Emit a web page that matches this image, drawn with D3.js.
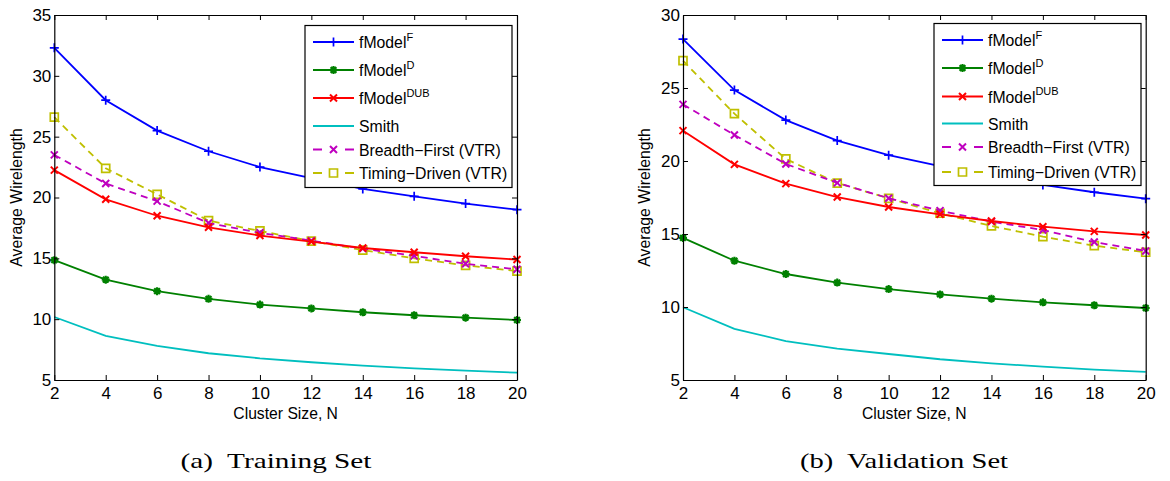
<!DOCTYPE html>
<html>
<head>
<meta charset="utf-8">
<script src="https://cdn.jsdelivr.net/npm/d3@7"></script>
<style>
  body { margin: 0; background: #fff; }
  svg { display: block; }
  text { font-family: "Liberation Sans", Arial, sans-serif; fill: #000; }
  .caption { font-family: "Liberation Serif", "Times New Roman", serif; }
</style>
</head>
<body>
<div id="chart"></div>
<script>
// cluster sizes on the x axis
const clusterSizes = [2, 4, 6, 8, 10, 12, 14, 16, 18, 20];

// (a) training set
const trainF     = [32.3, 28.0, 25.5, 23.8, 22.5, 21.6, 20.7, 20.1, 19.5, 19.0];
const trainD     = [14.85, 13.25, 12.3, 11.67, 11.2, 10.88, 10.57, 10.32, 10.12, 9.93];
const trainDUB   = [22.25, 19.85, 18.5, 17.55, 16.87, 16.37, 15.85, 15.5, 15.17, 14.9];
const trainSmith = [10.18, 8.62, 7.8, 7.2, 6.78, 6.46, 6.18, 5.96, 5.77, 5.6];
const trainBF    = [23.5, 21.15, 19.7, 17.9, 17.1, 16.45, 15.8, 15.2, 14.55, 14.1];
const trainTD    = [26.6, 22.4, 20.26, 18.1, 17.25, 16.42, 15.68, 15.0, 14.42, 13.95];

// (b) validation set
const validF     = [28.35, 24.86, 22.8, 21.4, 20.4, 19.65, 18.95, 18.36, 17.86, 17.42];
const validD     = [14.73, 13.17, 12.26, 11.67, 11.23, 10.86, 10.57, 10.32, 10.12, 9.93];
const validDUB   = [22.08, 19.77, 18.45, 17.53, 16.85, 16.35, 15.89, 15.5, 15.18, 14.93];
const validSmith = [9.98, 8.5, 7.67, 7.15, 6.78, 6.42, 6.14, 5.91, 5.71, 5.55];
const validBF    = [23.88, 21.78, 19.8, 18.5, 17.45, 16.6, 15.85, 15.27, 14.45, 13.84];
const validTD    = [26.87, 23.24, 20.14, 18.49, 17.44, 16.42, 15.55, 14.82, 14.2, 13.75];

const xTicks = [2, 4, 6, 8, 10, 12, 14, 16, 18, 20];
const trainYTicks = [5, 10, 15, 20, 25, 30, 35];
const validYTicks = [5, 10, 15, 20, 25, 30];

const seriesNames = ['fModel', 'fModel', 'fModel', 'Smith', 'Breadth\u2212First (VTR)', 'Timing\u2212Driven (VTR)'];
const seriesSups  = ['F', 'D', 'DUB', '', '', ''];
const seriesColors = ['#0000ff', '#008000', '#ff0000', '#00bfbf', '#bf00bf', '#bfbf00'];
const seriesMarkers = ['plus', 'star', 'cross', 'none', 'cross', 'square'];
const seriesDashed = [false, false, false, false, true, true];

const width = 1170, height = 481;

const svg = d3.select('#chart').append('svg')
  .attr('width', width)
  .attr('height', height);

// marker path generators, centred on 0,0
function markerPath(type, s) {
  const h = s / 2;
  if (type === 'plus') return `M${-h},0H${h}M0,${-h}V${h}`;
  if (type === 'cross') return `M${-h},${-h}L${h},${h}M${-h},${h}L${h},${-h}`;
  if (type === 'star') {
    const d = h * 0.72;
    return `M${-h},0H${h}M0,${-h}V${h}M${-d},${-d}L${d},${d}M${-d},${d}L${d},${-d}`;
  }
  if (type === 'square') return `M${-h},${-h}H${h}V${h}H${-h}Z`;
  return '';
}
const markerSize = { plus: 9, star: 8, cross: 7, square: 8, none: 0 };

function drawMarker(g, type, color, x, y) {
  if (type === 'none') return;
  g.append('path')
    .attr('transform', `translate(${x},${y})`)
    .attr('d', markerPath(type, markerSize[type]))
    .attr('fill', 'none')
    .attr('stroke', color)
    .attr('stroke-width', type === 'star' ? 2.2 : (type === 'cross' ? 2 : 1.7));
}

function renderPanel(opts) {
  const { left, right, top, bottom, yMax, yTicks, series, legend, caption, captionX, captionW } = opts;

  const x = d3.scaleLinear().domain([2, 20]).range([left, right]);
  const y = d3.scaleLinear().domain([5, yMax]).range([bottom, top]);

  const g = svg.append('g');

  // lines
  const line = d3.line().x((d, i) => x(clusterSizes[i])).y(d => y(d));
  // draw in reverse so fModel^F sits on top
  series.map((vals, k) => ({ vals, k })).reverse().forEach(({ vals, k }) => {
    g.append('path')
      .attr('d', line(vals))
      .attr('fill', 'none')
      .attr('stroke', seriesColors[k])
      .attr('stroke-width', 1.8)
      .attr('stroke-dasharray', seriesDashed[k] ? '7,5' : null);
    vals.forEach((v, i) => drawMarker(g, seriesMarkers[k], seriesColors[k], x(clusterSizes[i]), y(v)));
  });

  // axes: MATLAB style box with inward ticks
  const tick = 5;
  const axB = d3.axisBottom(x).tickValues(xTicks).tickSizeInner(-tick).tickSizeOuter(0).tickPadding(7);
  const axT = d3.axisTop(x).tickValues(xTicks).tickSizeInner(-tick).tickSizeOuter(0).tickFormat('');
  const axL = d3.axisLeft(y).tickValues(yTicks).tickSizeInner(-tick).tickSizeOuter(0).tickPadding(3);
  const axR = d3.axisRight(y).tickValues(yTicks).tickSizeInner(-tick).tickSizeOuter(0).tickFormat('');

  [[axB, `translate(0,${bottom})`], [axT, `translate(0,${top})`],
   [axL, `translate(${left},0)`], [axR, `translate(${right},0)`]].forEach(([ax, tr]) => {
    const a = g.append('g').attr('transform', tr).call(ax);
    a.select('.domain').attr('stroke', '#000').attr('stroke-width', 1.2);
    a.selectAll('.tick line').attr('stroke', '#000').attr('stroke-width', 1);
    a.selectAll('.tick text').style('font-size', '17px').attr('fill', '#000');
  });

  // axis labels
  g.append('text')
    .attr('x', (left + right) / 2)
    .attr('y', bottom + 38.5)
    .attr('text-anchor', 'middle')
    .style('font-size', '15.7px')
    .text('Cluster Size, N');

  g.append('text')
    .attr('transform', `translate(${left - 32.6},${(top + bottom) / 2}) rotate(-90)`)
    .attr('text-anchor', 'middle')
    .style('font-size', '15.8px')
    .text('Average Wirelength');

  // legend
  const lg = g.append('g');
  lg.append('rect')
    .attr('x', legend.x).attr('y', legend.y)
    .attr('width', legend.w).attr('height', legend.h)
    .attr('fill', '#fff').attr('stroke', '#000').attr('stroke-width', 1.2);

  legend.rows.forEach((ry, k) => {
    const x0 = legend.x + 8, x1 = legend.x + 49, xm = (x0 + x1) / 2;
    if (seriesDashed[k]) {
      lg.append('path').attr('d', `M${x0},${ry}H${x0 + 9}M${x1 - 9},${ry}H${x1}`)
        .attr('stroke', seriesColors[k]).attr('stroke-width', 1.8);
    } else {
      lg.append('path').attr('d', `M${x0},${ry}H${x1}`)
        .attr('stroke', seriesColors[k]).attr('stroke-width', 1.8);
    }
    drawMarker(lg, seriesMarkers[k], seriesColors[k], xm, ry);
    const t = lg.append('text')
      .attr('x', legend.x + 54)
      .attr('y', ry + 6)
      .style('font-size', '15.8px');
    t.append('tspan').text(seriesNames[k]);
    if (seriesSups[k]) {
      t.append('tspan').attr('dy', -7.5).style('font-size', '11px').text(seriesSups[k]);
    }
  });

  // caption
  svg.append('text')
    .attr('class', 'caption')
    .attr('x', captionX - captionW / 2)
    .attr('y', 468)
    .attr('textLength', captionW)
    .attr('lengthAdjust', 'spacingAndGlyphs')
    .style('font-size', '22px')
    .attr('xml:space', 'preserve')
    .text(caption);
}

renderPanel({
  left: 54.3, right: 517, top: 15, bottom: 380, yMax: 35, yTicks: trainYTicks,
  series: [trainF, trainD, trainDUB, trainSmith, trainBF, trainTD],
  legend: { x: 305, y: 25.5, w: 207, h: 162, rows: [42, 70, 98, 126, 149.5, 173] },
  caption: '(a)  Training Set', captionX: 276, captionW: 191
});

renderPanel({
  left: 683, right: 1145.7, top: 15, bottom: 380, yMax: 30, yTicks: validYTicks,
  series: [validF, validD, validDUB, validSmith, validBF, validTD],
  legend: { x: 934, y: 23.5, w: 207, h: 162, rows: [40, 68, 96.5, 123.5, 147, 172] },
  caption: '(b)  Validation Set', captionX: 904, captionW: 208
});
</script>
</body>
</html>
